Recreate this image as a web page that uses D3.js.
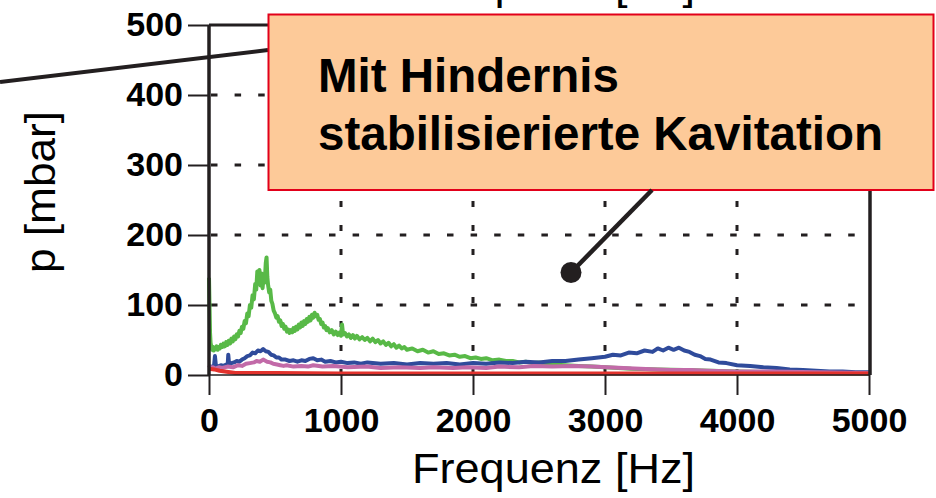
<!DOCTYPE html>
<html>
<head>
<meta charset="utf-8">
<script src="https://cdn.jsdelivr.net/npm/d3@7"></script>
<style>
  html, body { margin: 0; padding: 0; background: #fff; }
  svg { display: block; }
</style>
</head>
<body>
<div id="chart"></div>
<script>
const X_TICKS = [0, 1000, 2000, 3000, 4000, 5000]
const Y_TICKS = [0, 100, 200, 300, 400, 500]
const X_TITLE = "Frequenz [Hz]"
const Y_TITLE = "p [mbar]"
const NOTE_LINES = ["Mit Hindernis", "stabilisierierte Kavitation"]

// [Hz, mbar], zig-zag follows the noise band
const green = [[0,139],[4,100],[8,60],[12,46],[18,40],[24,36],[30,40],[36,35],[42,39],[50,37],[58,41],[66,36],[74,40],[82,38],[90,43],[100,40],[110,45],[120,41],[130,47],[140,43],[150,49],[160,45],[170,52],[180,48],[190,55],[200,51],[210,58],[220,55],[230,63],[240,60],[250,69],[260,66],[270,77],[280,74],[290,88],[300,84],[310,100],[320,96],[330,114],[340,108],[350,130],[358,122],[366,148],[374,136],[382,150],[390,128],[398,145],[406,124],[414,142],[422,132],[430,160],[436,168],[442,140],[448,128],[456,118],[464,122],[472,106],[480,102],[490,92],[500,88],[510,82],[520,84],[530,76],[540,78],[550,70],[560,73],[570,66],[580,69],[590,62],[600,65],[610,60],[620,64],[630,61],[640,67],[650,63],[660,69],[670,65],[680,72],[690,68],[700,75],[710,70],[720,77],[730,73],[740,80],[750,76],[760,83],[770,78],[780,86],[790,82],[800,89],[810,84],[820,86],[830,79],[840,80],[850,73],[860,75],[870,68],[880,70],[890,64],[900,67],[915,61],[930,64],[945,58],[960,62],[975,57],[990,61],[1000,56],[1008,72],[1016,58],[1030,60],[1045,55],[1060,58],[1075,53],[1090,57],[1105,52],[1120,56],[1140,51],[1160,54],[1180,50],[1200,53],[1220,48],[1240,52],[1260,47],[1280,50],[1300,45],[1320,48],[1340,43],[1360,46],[1380,41],[1400,44],[1420,39],[1440,42],[1460,38],[1480,40],[1500,36],[1540,38],[1580,34],[1620,36],[1660,32],[1700,34],[1740,30],[1780,31],[1820,28],[1860,29],[1900,26],[1940,27],[1980,24],[2020,25],[2060,23],[2100,24],[2150,21],[2200,22],[2250,20],[2300,20],[2350,18],[2400,19],[2450,17],[2500,18],[2600,15],[2700,14],[2800,13],[2900,12],[3000,11],[3200,9],[3400,8],[3600,7],[3800,6],[4000,5],[4300,4],[4600,3],[5000,2]]
const blue = [[0,10],[20,12],[38,13],[45,27],[52,14],[70,12],[90,14],[110,13],[130,15],[142,16],[146,29],[152,16],[170,17],[190,18],[210,20],[230,19],[250,22],[270,24],[290,27],[310,28],[330,32],[350,31],[370,35],[390,34],[410,37],[430,34],[450,33],[470,29],[490,28],[510,25],[530,25],[550,22],[580,22],[610,20],[640,21],[670,19],[700,21],[730,20],[760,23],[790,24],[820,21],[850,22],[880,19],[920,20],[960,18],[1000,19],[1050,17],[1100,18],[1150,16],[1200,18],[1300,16],[1400,17],[1500,15],[1600,17],[1700,16],[1800,17],[1900,15],[2000,17],[2100,16],[2200,18],[2300,17],[2400,19],[2500,18],[2600,20],[2700,20],[2800,22],[2900,24],[3000,26],[3060,29],[3120,28],[3180,32],[3240,31],[3300,35],[3360,33],[3400,38],[3440,35],[3480,39],[3520,36],[3560,39],[3600,35],[3640,33],[3680,29],[3720,27],[3760,23],[3800,22],[3860,18],[3920,17],[4000,14],[4100,13],[4200,11],[4300,10],[4400,8],[4500,7],[4600,6],[4700,5],[4800,5],[4900,4],[5000,4]]
const magenta = [[0,14],[10,10],[30,11],[50,9],[75,11],[100,10],[140,12],[182,11],[220,14],[250,13],[280,16],[310,17],[340,18],[360,20],[385,19],[410,22],[440,19],[465,18],[487,16],[515,15],[540,14],[565,13],[588,14],[640,12],[700,13],[750,12],[790,14],[860,12],[942,13],[1050,11],[1195,12],[1300,10],[1447,11],[1600,10],[1700,11],[1850,10],[1953,11],[2100,10],[2200,12],[2350,11],[2458,13],[2600,12],[2758,13],[2900,12],[3015,11],[3140,10],[3265,9],[3400,8],[3500,7],[3650,7],[3770,6],[4000,5],[4273,5],[4600,4],[5000,3]]
const red = [[0,9],[40,8],[80,6],[120,5],[200,3],[500,3],[1000,2],[2000,2],[3000,2],[4000,2],[5000,2]]

const SERIES = [
  { data: green, color: "#58b947" },
  { data: blue, color: "#2f4b9b" },
  { data: magenta, color: "#c26aa8" },
  { data: red, color: "#e2322d" }
]

const width = 936
const height = 498
const ink = "#231f20"
const font = "'Liberation Sans', Arial, Helvetica, sans-serif"

const x = d3.scaleLinear().domain([0, 5000]).range([209, 869])
const y = d3.scaleLinear().domain([0, 500]).range([375, 25])

const svg = d3.select("#chart")
  .append("svg")
  .attr("width", width)
  .attr("height", height)
  .style("font-family", font)

// Dotted grid
svg.append("g")
  .selectAll("line")
  .data(Y_TICKS.slice(1, -1))
  .enter()
  .append("line")
  .attr("x1", x(0) + 2)
  .attr("x2", x(5000))
  .attr("y1", d => y(d))
  .attr("y2", d => y(d))
  .attr("stroke", ink)
  .attr("stroke-width", 3)
  .attr("stroke-dasharray", "6.5,17.1")

svg.append("g")
  .selectAll("line")
  .data(X_TICKS.slice(1, -1))
  .enter()
  .append("line")
  .attr("x1", d => x(d))
  .attr("x2", d => x(d))
  .attr("y1", y(0))
  .attr("y2", y(500))
  .attr("stroke", ink)
  .attr("stroke-width", 3)
  .attr("stroke-dasharray", "6,18")

// Spectra
const line = d3.line()
  .x(d => x(d[0]))
  .y(d => y(d[1]))

svg.append("g")
  .selectAll("path")
  .data(SERIES)
  .enter()
  .append("path")
  .attr("d", d => line(d.data))
  .attr("fill", "none")
  .attr("stroke", d => d.color)
  .attr("stroke-width", 4)
  .attr("stroke-linejoin", "round")

// Frame
svg.append("line")
  .attr("x1", x(0)).attr("x2", x(5000))
  .attr("y1", y(0)).attr("y2", y(0))
  .attr("stroke", ink).attr("stroke-width", 1.5)
svg.append("line")
  .attr("x1", x(0)).attr("x2", x(5000) + 1)
  .attr("y1", y(500)).attr("y2", y(500))
  .attr("stroke", ink).attr("stroke-width", 3)
svg.append("line")
  .attr("x1", x(5000) + 1).attr("x2", x(5000) + 1)
  .attr("y1", y(500)).attr("y2", y(0))
  .attr("stroke", ink).attr("stroke-width", 3.5)
svg.append("line")
  .attr("x1", x(0)).attr("x2", x(0))
  .attr("y1", y(500)).attr("y2", y(0))
  .attr("stroke", ink).attr("stroke-width", 3.5)

// Axes
const yAxis = svg.append("g")
  .attr("transform", `translate(${x(0)},0)`)
  .call(d3.axisLeft(y).tickValues(Y_TICKS).tickSize(21).tickPadding(5).tickSizeOuter(0))
const xAxis = svg.append("g")
  .attr("transform", `translate(0,${y(0)})`)
  .call(d3.axisBottom(x).tickValues(X_TICKS).tickFormat(d3.format("d")).tickSize(20).tickPadding(13).tickSizeOuter(0))

for (const axis of [yAxis, xAxis]) {
  axis.select(".domain").remove()
  axis.selectAll(".tick line").attr("stroke", ink).attr("stroke-width", 2)
  axis.selectAll(".tick text")
    .attr("fill", "#000")
    .style("font-family", font)
    .style("font-size", "34px")
    .style("font-weight", "700")
}

// Axis titles
svg.append("text")
  .attr("x", 412)
  .attr("y", 483)
  .attr("textLength", 283)
  .attr("lengthAdjust", "spacingAndGlyphs")
  .style("font-size", "42px")
  .attr("fill", "#000")
  .text(X_TITLE)

svg.append("text")
  .attr("transform", "translate(55,192) rotate(-90)")
  .attr("text-anchor", "middle")
  .attr("textLength", 162)
  .attr("lengthAdjust", "spacingAndGlyphs")
  .style("font-size", "42px")
  .attr("fill", "#000")
  .text(Y_TITLE)

// Leftover from the panel above, cut by the page edge
svg.append("text")
  .attr("x", 412)
  .attr("y", -1.5)
  .attr("textLength", 283)
  .attr("lengthAdjust", "spacingAndGlyphs")
  .style("font-size", "42px")
  .attr("fill", "#000")
  .text(X_TITLE)

svg.append("line")
  .attr("x1", 0).attr("y1", 82)
  .attr("x2", 268).attr("y2", 50)
  .attr("stroke", ink)
  .attr("stroke-width", 4)

// Annotation box
svg.append("rect")
  .attr("x", 268.5)
  .attr("y", 14.5)
  .attr("width", 665)
  .attr("height", 175.5)
  .attr("fill", "#fdca99")
  .attr("stroke", "#e2001a")
  .attr("stroke-width", 2)

svg.append("g")
  .selectAll("text")
  .data(NOTE_LINES)
  .enter()
  .append("text")
  .attr("x", 318)
  .attr("y", (_, i) => 92 + i * 58)
  .style("font-size", "47.5px")
  .style("font-weight", "700")
  .attr("fill", "#000")
  .text(d => d)

svg.append("line")
  .attr("x1", 652).attr("y1", 190)
  .attr("x2", 571).attr("y2", 272.5)
  .attr("stroke", ink)
  .attr("stroke-width", 4.5)

svg.append("circle")
  .attr("cx", 571)
  .attr("cy", 272.5)
  .attr("r", 10.5)
  .attr("fill", ink)
</script>
</body>
</html>
